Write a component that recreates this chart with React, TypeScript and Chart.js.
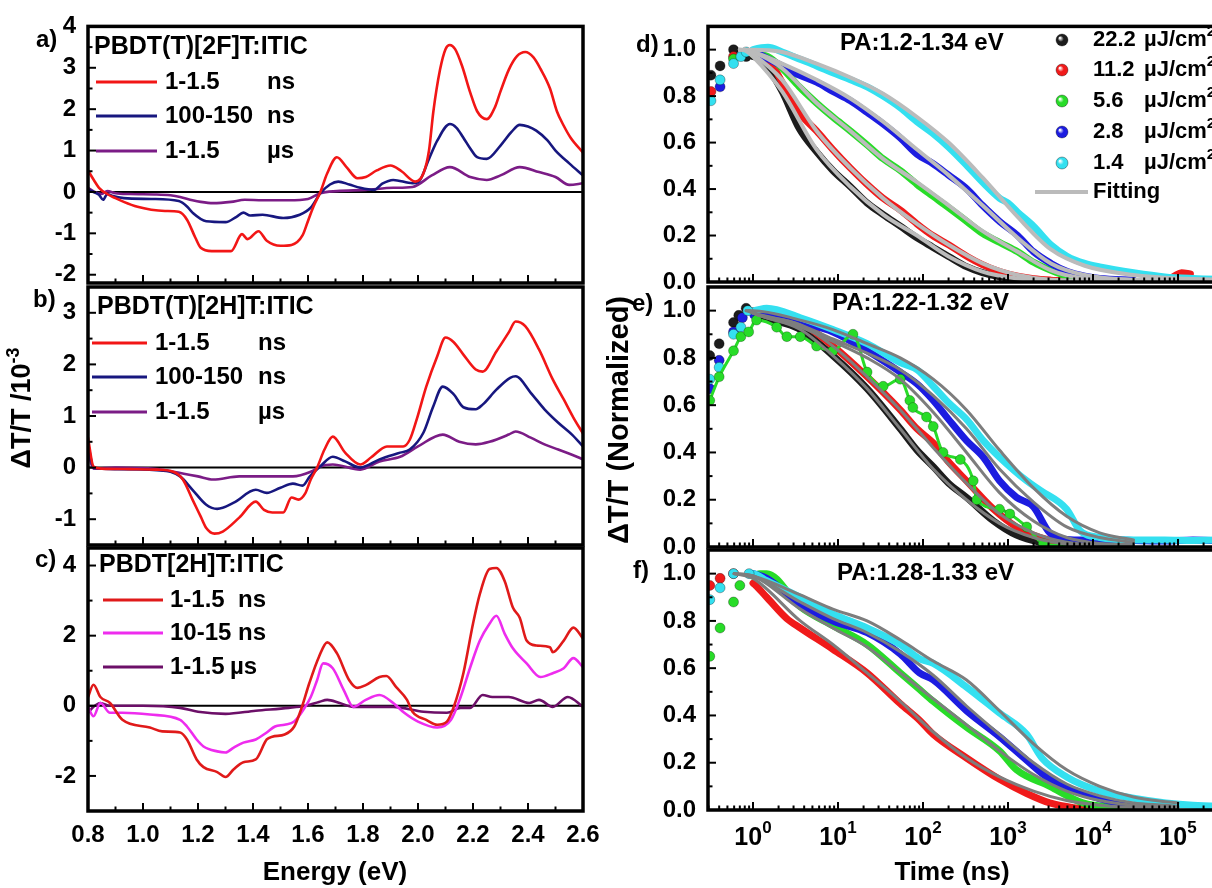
import React, { useEffect, useRef } from 'react';
import { Chart, registerables } from 'chart.js';

Chart.register(...registerables);

type Pt = [number, number | null];

const SANS = '"Liberation Sans", Arial, Helvetica, sans-serif';
const W = 1260;
const H = 888;

// ---------------- Left column: transient spectra (ΔT/T, 10^-3) ----------------
const energyTicks = [0.8, 1.0, 1.2, 1.4, 1.6, 1.8, 2.0, 2.2, 2.4, 2.6];
const energyMinor = [0.9, 1.1, 1.3, 1.5, 1.7, 1.9, 2.1, 2.3, 2.5];
const yTicksA = [-2, -1, 0, 1, 2, 3, 4];
const yMinorA = [-1.5, -0.5, 0.5, 1.5, 2.5, 3.5];
const yTicksB = [-1, 0, 1, 2, 3];
const yMinorB = [-0.5, 0.5, 1.5, 2.5];
const yTicksC = [-2, 0, 2, 4];
const yMinorC = [-1, 1, 3];

// a) PBDT(T)[2F]T:ITIC
const aRed: Pt[] = [[0.80,0.52],[0.82,0.30],[0.84,0.10],[0.87,-0.05],[0.90,-0.15],[0.93,-0.24],[0.98,-0.36],[1.03,-0.43],[1.08,-0.46],[1.13,-0.48],[1.16,-0.67],[1.19,-1.10],[1.21,-1.35],[1.25,-1.43],[1.32,-1.43],[1.36,-1.02],[1.38,-1.14],[1.42,-0.95],[1.45,-1.18],[1.50,-1.30],[1.54,-1.28],[1.58,-1.05],[1.60,-0.70],[1.62,-0.35],[1.645,0.00],[1.67,0.45],[1.705,0.84],[1.74,0.60],[1.78,0.33],[1.81,0.36],[1.85,0.52],[1.90,0.64],[1.94,0.50],[1.99,0.25],[2.02,0.45],[2.04,1.00],[2.056,1.95],[2.08,2.95],[2.10,3.45],[2.116,3.55],[2.135,3.45],[2.16,3.05],[2.19,2.40],[2.215,1.95],[2.25,1.76],[2.28,2.05],[2.30,2.43],[2.33,2.95],[2.36,3.28],[2.39,3.38],[2.42,3.25],[2.445,2.98],[2.48,2.50],[2.505,1.95],[2.53,1.60],[2.555,1.31],[2.60,0.95]];
const aNavy: Pt[] = [[0.80,0.05],[0.82,0.00],[0.84,-0.07],[0.855,-0.19],[0.87,-0.05],[0.89,-0.10],[0.93,-0.15],[1.03,-0.17],[1.13,-0.22],[1.16,-0.35],[1.18,-0.50],[1.23,-0.71],[1.30,-0.73],[1.34,-0.60],[1.365,-0.50],[1.39,-0.57],[1.435,-0.55],[1.51,-0.63],[1.57,-0.55],[1.61,-0.38],[1.645,-0.03],[1.68,0.18],[1.71,0.25],[1.75,0.18],[1.79,0.10],[1.84,0.05],[1.87,0.20],[1.91,0.29],[1.98,0.21],[2.00,0.23],[2.04,0.80],[2.07,1.24],[2.116,1.64],[2.14,1.55],[2.165,1.31],[2.19,1.05],[2.215,0.84],[2.25,0.80],[2.30,1.12],[2.34,1.45],[2.37,1.62],[2.40,1.58],[2.43,1.48],[2.47,1.25],[2.50,1.00],[2.55,0.69],[2.60,0.40]];
const aPurple: Pt[] = [[0.80,0.10],[0.83,-0.02],[0.85,-0.05],[0.87,0.02],[0.90,-0.03],[0.95,-0.05],[1.05,-0.06],[1.10,-0.08],[1.135,-0.12],[1.18,-0.20],[1.21,-0.24],[1.255,-0.27],[1.32,-0.24],[1.37,-0.19],[1.435,-0.20],[1.53,-0.20],[1.60,-0.17],[1.645,-0.03],[1.705,0.02],[1.81,0.05],[1.91,0.10],[1.98,0.12],[2.05,0.40],[2.116,0.60],[2.19,0.36],[2.25,0.29],[2.30,0.40],[2.37,0.60],[2.44,0.48],[2.50,0.36],[2.55,0.17],[2.60,0.21]];

// b) PBDT(T)[2H]T:ITIC
const bRed: Pt[] = [[0.80,0.58],[0.82,0.02],[0.85,-0.02],[0.95,-0.03],[1.05,-0.04],[1.11,-0.08],[1.145,-0.23],[1.18,-0.62],[1.21,-0.95],[1.23,-1.17],[1.26,-1.28],[1.29,-1.24],[1.35,-0.97],[1.41,-0.66],[1.44,-0.82],[1.47,-0.87],[1.51,-0.87],[1.54,-0.58],[1.565,-0.62],[1.59,-0.50],[1.61,-0.23],[1.633,0.00],[1.66,0.35],[1.69,0.60],[1.735,0.29],[1.79,0.06],[1.83,0.20],[1.887,0.41],[1.946,0.41],[1.97,0.54],[1.995,0.93],[2.03,1.57],[2.07,2.16],[2.10,2.52],[2.13,2.43],[2.165,2.19],[2.21,1.90],[2.235,1.86],[2.285,2.25],[2.33,2.62],[2.355,2.83],[2.39,2.74],[2.44,2.29],[2.49,1.71],[2.53,1.32],[2.565,0.97],[2.60,0.66]];
const bNavy: Pt[] = [[0.80,0.48],[0.82,0.00],[0.90,-0.03],[1.05,-0.05],[1.10,-0.08],[1.135,-0.17],[1.18,-0.43],[1.23,-0.72],[1.27,-0.80],[1.33,-0.68],[1.41,-0.43],[1.45,-0.49],[1.50,-0.39],[1.545,-0.31],[1.58,-0.35],[1.607,-0.17],[1.644,0.02],[1.69,0.21],[1.735,0.12],[1.79,0.00],[1.86,0.16],[1.935,0.29],[1.97,0.35],[2.02,0.68],[2.055,1.18],[2.09,1.57],[2.13,1.42],[2.165,1.17],[2.21,1.13],[2.235,1.22],[2.285,1.51],[2.335,1.74],[2.355,1.77],[2.41,1.45],[2.46,1.13],[2.51,0.87],[2.56,0.64],[2.60,0.41]];
const bPurple: Pt[] = [[0.80,0.30],[0.82,-0.02],[0.90,0.00],[1.05,-0.03],[1.11,-0.08],[1.20,-0.17],[1.255,-0.23],[1.35,-0.17],[1.45,-0.17],[1.545,-0.17],[1.61,-0.08],[1.644,0.02],[1.69,0.06],[1.79,-0.04],[1.86,0.12],[1.935,0.21],[2.00,0.41],[2.09,0.64],[2.15,0.50],[2.21,0.45],[2.26,0.50],[2.33,0.64],[2.355,0.70],[2.41,0.58],[2.46,0.45],[2.51,0.35],[2.56,0.25],[2.60,0.16]];

// c) PBDT[2H]T:ITIC
const cRed: Pt[] = [[0.80,0.25],[0.82,0.60],[0.845,0.25],[0.88,0.08],[0.925,-0.40],[1.025,-0.62],[1.07,-0.73],[1.135,-0.76],[1.16,-0.96],[1.195,-1.53],[1.22,-1.75],[1.27,-1.89],[1.30,-2.03],[1.33,-1.81],[1.365,-1.61],[1.41,-1.53],[1.45,-0.96],[1.47,-0.88],[1.515,-0.82],[1.55,-0.59],[1.575,-0.10],[1.605,0.65],[1.64,1.40],[1.67,1.81],[1.705,1.50],[1.75,0.73],[1.78,0.51],[1.81,0.59],[1.86,0.82],[1.885,0.85],[1.92,0.54],[1.96,0.17],[1.98,-0.17],[2.03,-0.40],[2.07,-0.54],[2.105,-0.45],[2.13,-0.03],[2.165,0.93],[2.20,2.34],[2.225,3.19],[2.26,3.90],[2.285,3.93],[2.315,3.56],[2.345,2.80],[2.37,2.51],[2.395,1.86],[2.43,1.72],[2.48,1.67],[2.49,1.53],[2.53,1.86],[2.565,2.23],[2.60,1.92]];
const cMagenta: Pt[] = [[0.80,-0.03],[0.82,-0.30],[0.845,0.08],[0.88,-0.20],[0.925,-0.20],[1.025,-0.25],[1.135,-0.40],[1.16,-0.59],[1.195,-0.96],[1.22,-1.16],[1.27,-1.30],[1.30,-1.33],[1.33,-1.19],[1.365,-1.05],[1.41,-0.96],[1.45,-0.76],[1.48,-0.59],[1.515,-0.54],[1.55,-0.45],[1.59,-0.03],[1.61,0.25],[1.633,0.73],[1.655,1.21],[1.69,1.07],[1.73,0.45],[1.765,-0.03],[1.81,0.17],[1.86,0.31],[1.91,0.08],[1.95,-0.20],[2.00,-0.45],[2.07,-0.62],[2.12,-0.40],[2.155,0.25],[2.19,1.10],[2.225,1.86],[2.26,2.34],[2.285,2.57],[2.315,2.06],[2.345,1.64],[2.395,1.21],[2.445,0.82],[2.49,0.93],[2.53,1.07],[2.565,1.36],[2.60,1.10]];
const cPurple: Pt[] = [[0.80,-0.20],[0.82,-0.03],[0.845,0.08],[0.88,0.00],[1.00,0.00],[1.135,-0.06],[1.20,-0.17],[1.30,-0.23],[1.41,-0.14],[1.53,-0.06],[1.59,0.00],[1.64,0.11],[1.67,0.17],[1.715,0.08],[1.765,-0.03],[1.91,-0.03],[2.02,-0.17],[2.105,-0.20],[2.155,-0.06],[2.19,-0.06],[2.235,0.31],[2.27,0.25],[2.33,0.25],[2.405,0.08],[2.44,0.17],[2.49,-0.03],[2.545,0.25],[2.60,-0.03]];

const legendA = [{ num: '1-1.5', unit: 'ns' }, { num: '100-150', unit: 'ns' }, { num: '1-1.5', unit: 'µs' }];
const legendB = [{ num: '1-1.5', unit: 'ns' }, { num: '100-150', unit: 'ns' }, { num: '1-1.5', unit: 'µs' }];
const legendC = [{ num: '1-1.5', unit: 'ns' }, { num: '10-15', unit: 'ns' }, { num: '1-1.5', unit: 'µs' }];

// ---------------- Right column: normalized kinetics ----------------
const normTicks = [0, 0.2, 0.4, 0.6, 0.8, 1.0];
const normMinor = [0.1, 0.3, 0.5, 0.7, 0.9];
const timeTicks = [1, 10, 100, 1000, 10000, 100000];
const timeExp = ['0', '1', '2', '3', '4', '5'];
const fluenceLabels = ['22.2', '11.2', '5.6', '2.8', '1.4'];
const fluenceUnit = 'µJ/cm';

// d) PA:1.2-1.34 eV
const dBlack: Pt[] = [[0.32,0.89],[0.41,0.93],[0.59,1.0],[0.83,0.97],[1,0.97],[1.5,0.92],[2.2,0.82],[3.5,0.66],[5.6,0.56],[8.7,0.48],[14,0.41],[22,0.34],[34,0.29],[54,0.24],[85,0.19],[130,0.15],[200,0.11],[330,0.065],[500,0.04],[800,0.022],[1300,0.012],[2000,0.007],[3200,0.004],[5000,0.003]];
const dRed: Pt[] = [[0.32,0.82],[0.59,0.97],[1,0.98],[1.5,0.96],[2.2,0.86],[3.5,0.73],[5.6,0.65],[8.7,0.57],[14,0.49],[22,0.42],[34,0.36],[54,0.31],[85,0.25],[130,0.2],[200,0.16],[330,0.11],[500,0.075],[800,0.045],[1300,0.025],[2000,0.014],[3200,0.008],[5000,0.005],[8000,0.003],[20000,null],[90000,0.025],[110000,0.04],[140000,0.035]];
const dGreen: Pt[] = [[0.59,0.96],[1,0.98],[1.5,0.97],[2.2,0.92],[3.5,0.84],[5.6,0.77],[8.7,0.71],[14,0.65],[22,0.59],[34,0.53],[54,0.48],[85,0.42],[130,0.37],[200,0.32],[330,0.26],[500,0.21],[800,0.17],[1300,0.13],[2000,0.085],[3200,0.05],[5000,0.025],[8000,0.012],[12000,0.006]];
const dBlue: Pt[] = [[0.41,0.84],[1,0.99],[1.5,0.96],[2.2,0.93],[3.5,0.89],[5.6,0.86],[8.7,0.82],[14,0.78],[22,0.73],[34,0.68],[54,0.62],[85,0.55],[130,0.51],[200,0.46],[330,0.4],[500,0.33],[800,0.26],[1300,0.2],[2000,0.13],[3200,0.08],[5000,0.045],[8000,0.025],[12000,0.015],[30000,0.008]];
const dCyan: Pt[] = [[0.32,0.78],[0.41,0.87],[0.59,0.94],[0.72,0.97],[0.83,0.99],[1,1.0],[1.5,1.01],[2.2,0.99],[3.5,0.96],[5.6,0.93],[8.7,0.9],[14,0.87],[22,0.84],[34,0.8],[54,0.75],[85,0.69],[130,0.64],[200,0.58],[330,0.5],[500,0.43],[800,0.36],[1000,0.34],[1300,0.3],[2000,0.24],[3200,0.16],[5000,0.11],[8000,0.08],[12000,0.065],[30000,0.04],[70000,0.022],[150000,0.015],[430000,0.01]];
const dFitBlack: Pt[] = [[0.8,1.0],[1,0.97],[2.2,0.82],[5.6,0.57],[14,0.41],[34,0.29],[85,0.2],[200,0.11],[500,0.045],[1300,0.015],[3200,0.005],[30000,0.002],[430000,0.002]];
const dFitRed: Pt[] = [[0.8,1.0],[1,0.98],[2.2,0.87],[5.6,0.65],[14,0.49],[34,0.36],[85,0.25],[200,0.16],[500,0.08],[1300,0.03],[3200,0.01],[30000,0.004],[430000,0.003]];
const dFitGreen: Pt[] = [[0.8,1.0],[1,0.99],[2.2,0.92],[5.6,0.77],[14,0.65],[34,0.53],[85,0.43],[200,0.33],[500,0.22],[1300,0.13],[3200,0.05],[8000,0.015],[30000,0.006],[430000,0.004]];
const dFitBlue: Pt[] = [[0.7,1.0],[1,0.99],[2.2,0.94],[5.6,0.87],[14,0.79],[34,0.69],[85,0.57],[200,0.46],[500,0.33],[1300,0.19],[3200,0.08],[8000,0.03],[30000,0.01],[430000,0.005]];
const dFitCyan: Pt[] = [[0.7,1.0],[1,1.0],[2.2,0.99],[5.6,0.94],[14,0.88],[34,0.81],[85,0.71],[200,0.6],[500,0.45],[1300,0.28],[3200,0.14],[8000,0.07],[30000,0.03],[100000,0.015],[430000,0.01]];

// e) PA:1.22-1.32 eV
const eBlack: Pt[] = [[0.31,0.81],[0.4,0.86],[0.59,0.95],[0.68,0.98],[0.83,1.01],[1,1.0],[1.45,0.97],[2.2,0.95],[3.6,0.92],[8.7,0.81],[22,0.67],[54,0.5],[85,0.41],[132,0.34],[200,0.27],[325,0.21],[676,0.11],[1259,0.05],[2400,0.02],[5000,0.008]];
const eRed: Pt[] = [[1,1.0],[1.45,0.98],[2.2,0.97],[3.6,0.95],[8.7,0.85],[22,0.72],[54,0.58],[85,0.5],[132,0.44],[200,0.36],[325,0.28],[676,0.16],[1259,0.085],[2400,0.04],[4900,0.015],[10000,0.005]];
const eGreen: Pt[] = [[0.31,0.62],[0.4,0.72],[0.59,0.83],[0.72,0.89],[0.89,0.91],[1.1,0.96],[1.9,0.93],[2.5,0.89],[3.6,0.89],[5.6,0.85],[8.7,0.83],[15,0.9],[22,0.74],[34,0.68],[54,0.71],[70,0.62],[76,0.59],[110,0.55],[132,0.51],[172,0.4],[275,0.37],[390,0.28],[430,0.2],[794,0.16],[1050,0.14],[1660,0.085],[2600,0.015],[5000,0.005]];
const eBlue: Pt[] = [[0.31,0.67],[0.4,0.79],[0.59,0.91],[0.75,0.97],[1,0.98],[1.45,0.99],[3.6,0.95],[8.7,0.91],[22,0.83],[54,0.74],[85,0.69],[132,0.62],[200,0.54],[325,0.45],[513,0.38],[794,0.28],[1259,0.21],[1995,0.17],[3100,0.06],[6000,0.03],[12000,0.03],[30000,0.028],[70000,0.025],[150000,0.03],[430000,0.025]];
const eCyan: Pt[] = [[0.31,0.71],[0.4,0.76],[0.59,0.9],[0.72,0.93],[0.87,1.0],[1,1.0],[1.45,1.01],[3.6,0.97],[8.7,0.92],[22,0.86],[54,0.78],[85,0.75],[132,0.68],[200,0.61],[325,0.54],[513,0.45],[794,0.38],[1660,0.28],[2400,0.24],[4900,0.16],[7000,0.07],[12000,0.04],[30000,0.03],[70000,0.03],[150000,0.028],[430000,0.03]];
const eFitCyan: Pt[] = [[0.83,1.0],[1,1.0],[3.6,0.96],[8.7,0.92],[22,0.86],[54,0.8],[132,0.71],[325,0.58],[794,0.41],[1995,0.25],[4900,0.13],[12000,0.06],[30000,0.03]];
const eFitBlue: Pt[] = [[0.83,1.0],[1,0.99],[3.6,0.94],[8.7,0.88],[22,0.82],[54,0.75],[132,0.64],[325,0.5],[794,0.33],[1995,0.19],[4900,0.085],[12000,0.04],[30000,0.02]];
const eFitGreen: Pt[] = [[0.9,1.0],[1,0.99],[3.6,0.93],[8.7,0.87],[22,0.8],[54,0.71],[132,0.57],[325,0.4],[794,0.23],[1995,0.11],[4900,0.04],[12000,0.015],[30000,0.01]];
const eFitRed: Pt[] = [[0.9,1.0],[1,0.99],[3.6,0.94],[8.7,0.85],[22,0.72],[54,0.58],[132,0.42],[325,0.27],[794,0.14],[1995,0.06],[4900,0.02],[12000,0.008],[30000,0.005]];
const eFitBlack: Pt[] = [[0.9,1.0],[1,0.99],[3.6,0.92],[8.7,0.81],[22,0.67],[54,0.5],[132,0.33],[325,0.2],[794,0.1],[1995,0.04],[4900,0.012],[12000,0.005],[30000,0.003]];

// f) PA:1.28-1.33 eV
const fRed: Pt[] = [[0.31,0.95],[0.41,0.98],[0.59,1.0],[1,0.96],[1.45,0.9],[2.5,0.81],[3.6,0.77],[8.7,0.68],[22,0.58],[54,0.45],[91,0.38],[132,0.32],[325,0.22],[794,0.13],[1660,0.07],[3100,0.03],[5900,0.01],[10000,0.004]];
const fGreen: Pt[] = [[0.31,0.65],[0.41,0.77],[0.59,0.88],[0.7,0.95],[1,0.99],[1.2,1.0],[1.45,1.0],[3.6,0.86],[8.7,0.78],[22,0.7],[54,0.58],[91,0.51],[132,0.46],[325,0.35],[794,0.25],[1260,0.17],[3100,0.1],[7600,0.03],[19000,0.01],[30000,0.005]];
const fBlue: Pt[] = [[1,1.0],[1.45,0.98],[3.6,0.87],[8.7,0.8],[22,0.75],[54,0.66],[91,0.58],[132,0.55],[325,0.42],[794,0.31],[1660,0.21],[3100,0.13],[7600,0.07],[19000,0.03],[47000,0.01]];
const fCyan: Pt[] = [[0.31,0.89],[0.41,0.94],[0.59,1.0],[0.9,1.0],[1,1.0],[1.45,0.97],[3.6,0.9],[8.7,0.83],[22,0.77],[54,0.7],[91,0.64],[132,0.62],[325,0.52],[794,0.41],[1660,0.32],[2500,0.22],[4900,0.14],[12000,0.08],[30000,0.05],[72000,0.03],[150000,0.02],[430000,0.015]];
const fFitCyan: Pt[] = [[0.6,1.0],[1,0.99],[3.6,0.91],[8.7,0.85],[22,0.8],[54,0.72],[132,0.63],[325,0.55],[794,0.42],[2000,0.28],[4900,0.17],[12000,0.1],[30000,0.055],[72000,0.035],[100000,0.03]];
const fFitBlue: Pt[] = [[0.6,1.0],[1,0.99],[3.6,0.88],[8.7,0.81],[22,0.75],[54,0.67],[132,0.57],[325,0.44],[794,0.32],[2000,0.2],[4900,0.11],[12000,0.06],[30000,0.03],[72000,0.02],[100000,0.015]];
const fFitGreen: Pt[] = [[0.6,1.0],[1,0.99],[3.6,0.85],[8.7,0.77],[22,0.69],[54,0.58],[132,0.47],[325,0.36],[794,0.25],[2000,0.15],[4900,0.08],[12000,0.04],[30000,0.02],[100000,0.01]];
const fFitRed: Pt[] = [[0.6,1.0],[1,0.98],[3.6,0.8],[8.7,0.7],[22,0.58],[54,0.46],[132,0.33],[325,0.22],[794,0.14],[2000,0.08],[4900,0.04],[12000,0.02],[30000,0.01],[100000,0.005]];

// ---------------- styles ----------------
const C_RED = '#f21616';
const C_NAVY = '#17177f';
const C_PURPLE = '#7b1c86';
const C_RED2 = '#e01a1a';
const C_MAGENTA = '#ee2cee';
const C_PURPLE2 = '#6c0f68';
const K_BLACK = '#1c1c1c';
const K_RED = '#f01a1a';
const K_GREEN = '#28dc28';
const K_BLUE = '#1c1ce0';
const K_CYAN = '#34e0f0';
const FIT_LIGHT = '#bbbbbb';
const FIT_DARK = '#7d7d7d';

const X_MIN_T = Math.pow(10, (708 - 753) / 85);
const X_MAX_T = Math.pow(10, (1232 - 753) / 85);

function logMinor(min: number, max: number): number[] {
  const out: number[] = [];
  for (let d = 0.1; d < max; d *= 10) {
    for (let m = 2; m <= 9; m++) {
      const v = m * d;
      if (v > min && v < max) out.push(v);
    }
  }
  return out;
}
const timeMinor = logMinor(X_MIN_T, X_MAX_T);

type Kind = 'line' | 'data' | 'dots' | 'fit';
interface Series { label: string; pts: Pt[]; color: string; kind: Kind; order: number; width?: number }

interface PanelCfg {
  id: string;
  L: number; R: number; T: number; B: number; padL: number;
  xLog: boolean; xMin: number; xMax: number; xTicks: number[]; xMinor: number[];
  yMin: number; yMax: number; yTicks: number[]; yMinor: number[]; yFmt: (v: number) => string;
  showX: boolean; zeroLine: boolean;
  series: Series[];
  decorate: (ctx: CanvasRenderingContext2D, chart: any) => void;
}

function fnt(size: number) { return `bold ${size}px ${SANS}`; }
function text(ctx: CanvasRenderingContext2D, s: string, x: number, y: number, size: number, align: CanvasTextAlign = 'left') {
  ctx.font = fnt(size); ctx.fillStyle = '#000'; ctx.textAlign = align; ctx.textBaseline = 'middle'; ctx.fillText(s, x, y);
}
interface Part { t: string; size: number; dy: number }
function rich(ctx: CanvasRenderingContext2D, parts: Part[], x: number, y: number, align: 'left' | 'center') {
  let total = 0;
  const ws = parts.map(p => { ctx.font = fnt(p.size); const w = ctx.measureText(p.t).width; total += w; return w; });
  let cx = align === 'center' ? x - total / 2 : x;
  ctx.fillStyle = '#000'; ctx.textAlign = 'left'; ctx.textBaseline = 'middle';
  parts.forEach((p, i) => { ctx.font = fnt(p.size); ctx.fillText(p.t, cx, y + p.dy); cx += ws[i]; });
}
function rotated(ctx: CanvasRenderingContext2D, parts: Part[], x: number, y: number) {
  ctx.save(); ctx.translate(x, y); ctx.rotate(-Math.PI / 2); rich(ctx, parts, 0, 0, 'center'); ctx.restore();
}
function legendRows(ctx: CanvasRenderingContext2D, rows: { num: string; unit: string }[], colors: string[], x1: number, x2: number, numX: number, unitX: number[], ys: number[], size: number) {
  rows.forEach((r, i) => {
    ctx.strokeStyle = colors[i]; ctx.lineWidth = 3; ctx.beginPath(); ctx.moveTo(x1, ys[i]); ctx.lineTo(x2, ys[i]); ctx.stroke();
    text(ctx, r.num, numX, ys[i], size);
    text(ctx, r.unit, unitX[i], ys[i], size);
  });
}
function sphere(ctx: CanvasRenderingContext2D, x: number, y: number, r: number, color: string) {
  const g = ctx.createRadialGradient(x - r * 0.35, y - r * 0.35, 0.5, x, y, r);
  g.addColorStop(0, '#ffffff'); g.addColorStop(0.45, color); g.addColorStop(1, color);
  ctx.fillStyle = g; ctx.beginPath(); ctx.arc(x, y, r, 0, Math.PI * 2); ctx.fill();
  ctx.strokeStyle = 'rgba(0,0,0,0.35)'; ctx.lineWidth = 1; ctx.stroke();
}

function toData(pts: Pt[]) { return pts.map(([x, y]) => ({ x, y })); }

function makeDataset(s: Series) {
  const base: any = {
    label: s.label, data: toData(s.pts), borderColor: s.color, backgroundColor: s.color,
    cubicInterpolationMode: 'monotone', spanGaps: false, order: s.order, fill: false,
    borderJoinStyle: 'round', borderCapStyle: 'round',
  };
  if (s.kind === 'line') return { ...base, borderWidth: s.width ?? 2.6, pointRadius: 0 };
  if (s.kind === 'fit') return { ...base, borderWidth: s.width ?? 3, pointRadius: 0 };
  if (s.kind === 'dots') return { ...base, borderWidth: 3, pointRadius: 5, pointBackgroundColor: s.color, pointBorderColor: 'rgba(0,0,0,0.25)', pointBorderWidth: 1 };
  return {
    ...base, borderWidth: 7,
    pointRadius: (c: any) => (c.raw && c.raw.x < 0.95 ? 5 : 0),
    pointBackgroundColor: s.color, pointBorderColor: 'rgba(0,0,0,0.3)', pointBorderWidth: 1,
    segment: { borderColor: (c: any) => (c.p0.parsed.x < 0.95 ? 'rgba(0,0,0,0)' : undefined) },
  };
}

function buildConfig(cfg: PanelCfg): any {
  const xAxisH = cfg.showX ? 40 : 0;
  const tickFont = { family: SANS, size: 24, weight: 'bold' as const };
  const decor = {
    id: 'decor' + cfg.id,
    beforeDatasetsDraw(chart: any) {
      if (!cfg.zeroLine) return;
      const { ctx, chartArea, scales } = chart;
      const y0 = scales.y.getPixelForValue(0);
      ctx.save(); ctx.strokeStyle = '#000'; ctx.lineWidth = 2;
      ctx.beginPath(); ctx.moveTo(chartArea.left, y0); ctx.lineTo(chartArea.right, y0); ctx.stroke(); ctx.restore();
    },
    afterDraw(chart: any) {
      const { ctx, chartArea, scales } = chart;
      const { left, right, top, bottom } = chartArea;
      ctx.save();
      ctx.strokeStyle = '#000'; ctx.lineWidth = 2;
      const vt = (v: number, len: number) => { const p = scales.x.getPixelForValue(v); ctx.beginPath(); ctx.moveTo(p, bottom); ctx.lineTo(p, bottom - len); ctx.stroke(); };
      const ht = (v: number, len: number) => { const p = scales.y.getPixelForValue(v); ctx.beginPath(); ctx.moveTo(left, p); ctx.lineTo(left + len, p); ctx.stroke(); };
      cfg.xTicks.forEach(v => vt(v, 8));
      cfg.xMinor.forEach(v => vt(v, 4.5));
      cfg.yTicks.forEach(v => ht(v, 8));
      cfg.yMinor.forEach(v => ht(v, 4.5));
      ctx.lineWidth = 3.5; ctx.strokeRect(left, top, right - left, bottom - top);
      cfg.decorate(ctx, chart);
      ctx.restore();
    },
  };
  return {
    type: 'line',
    data: { datasets: cfg.series.map(makeDataset) },
    options: {
      responsive: false, maintainAspectRatio: false, animation: false, devicePixelRatio: 1, events: [],
      layout: { padding: { left: cfg.padL, top: cfg.T, right: W - cfg.R, bottom: H - cfg.B - xAxisH } },
      plugins: { legend: { display: false }, tooltip: { enabled: false }, title: { display: false } },
      scales: {
        x: {
          type: cfg.xLog ? 'logarithmic' : 'linear', min: cfg.xMin, max: cfg.xMax, position: 'bottom',
          grid: { display: false, drawTicks: false }, border: { display: false },
          ticks: { display: cfg.showX && !cfg.xLog, font: tickFont, color: '#000', padding: 10, maxRotation: 0, autoSkip: false, callback: (v: any) => Number(v).toFixed(1) },
          afterBuildTicks: (s: any) => { s.ticks = cfg.xTicks.map(value => ({ value })); },
          afterFit: (s: any) => { s.height = xAxisH; },
        },
        y: {
          type: 'linear', min: cfg.yMin, max: cfg.yMax, position: 'left',
          grid: { display: false, drawTicks: false }, border: { display: false },
          ticks: { font: tickFont, color: '#000', padding: 12, autoSkip: false, callback: (v: any) => cfg.yFmt(Number(v)) },
          afterBuildTicks: (s: any) => { s.ticks = cfg.yTicks.map(value => ({ value })); },
          afterFit: (s: any) => { s.width = cfg.L - cfg.padL; },
        },
      },
    },
    plugins: [decor],
  };
}

const intFmt = (v: number) => String(Math.round(v));
const oneFmt = (v: number) => v.toFixed(1);

const leftBase = { padL: 0, L: 88, R: 583, xLog: false, xMin: 0.8, xMax: 2.6, xTicks: energyTicks, xMinor: energyMinor, yFmt: intFmt, zeroLine: true };
const rightBase = { padL: 600, L: 708, R: 1232, xLog: true, xMin: X_MIN_T, xMax: X_MAX_T, xTicks: timeTicks, xMinor: timeMinor, yMin: 0, yMax: 1.1, yTicks: normTicks, yMinor: normMinor, yFmt: oneFmt, zeroLine: false };

const panels: PanelCfg[] = [
  {
    ...leftBase, id: 'a', T: 25, B: 283, yMin: -2.2, yMax: 4, yTicks: yTicksA, yMinor: yMinorA, showX: false,
    series: [
      { label: '1-1.5 µs', pts: aPurple, color: C_PURPLE, kind: 'line', order: 3 },
      { label: '100-150 ns', pts: aNavy, color: C_NAVY, kind: 'line', order: 2 },
      { label: '1-1.5 ns', pts: aRed, color: C_RED, kind: 'line', order: 1 },
    ],
    decorate: (ctx) => {
      text(ctx, 'a)', 36, 40, 24);
      text(ctx, 'PBDT(T)[2F]T:ITIC', 94, 47, 25);
      legendRows(ctx, legendA, [C_RED, C_NAVY, C_PURPLE], 96, 157, 165, [267, 267, 267], [82, 116, 151], 24);
    },
  },
  {
    ...leftBase, id: 'b', T: 287, B: 545, yMin: -1.5, yMax: 3.5, yTicks: yTicksB, yMinor: yMinorB, showX: false,
    series: [
      { label: '1-1.5 µs', pts: bPurple, color: C_PURPLE, kind: 'line', order: 3 },
      { label: '100-150 ns', pts: bNavy, color: C_NAVY, kind: 'line', order: 2 },
      { label: '1-1.5 ns', pts: bRed, color: C_RED, kind: 'line', order: 1 },
    ],
    decorate: (ctx) => {
      text(ctx, 'b)', 33, 300, 24);
      text(ctx, 'PBDT(T)[2H]T:ITIC', 97, 307, 25);
      legendRows(ctx, legendB, [C_RED, C_NAVY, C_PURPLE], 92, 147, 155, [258, 258, 258], [343, 377, 412], 24);
      rotated(ctx, [{ t: 'ΔT/T /10', size: 27, dy: 0 }, { t: '-3', size: 18, dy: -9 }], 23, 408);
    },
  },
  {
    ...leftBase, id: 'c', T: 548, B: 811, yMin: -3, yMax: 4.5, yTicks: yTicksC, yMinor: yMinorC, showX: true,
    series: [
      { label: '1-1.5 µs', pts: cPurple, color: C_PURPLE2, kind: 'line', order: 3 },
      { label: '10-15 ns', pts: cMagenta, color: C_MAGENTA, kind: 'line', order: 2 },
      { label: '1-1.5 ns', pts: cRed, color: C_RED2, kind: 'line', order: 1 },
    ],
    decorate: (ctx) => {
      text(ctx, 'c)', 35, 560, 24);
      text(ctx, 'PBDT[2H]T:ITIC', 99, 565, 25);
      legendRows(ctx, legendC, [C_RED2, C_MAGENTA, C_PURPLE2], 103, 163, 170, [238, 238, 230], [600, 633, 667], 24);
      text(ctx, 'Energy (eV)', 335, 873, 26, 'center');
    },
  },
  {
    ...rightBase, id: 'd', T: 23, B: 282, showX: false,
    series: [
      { label: 'Fit 22.2', pts: dFitBlack, color: FIT_LIGHT, kind: 'fit', order: 0, width: 4 },
      { label: 'Fit 11.2', pts: dFitRed, color: FIT_LIGHT, kind: 'fit', order: 0, width: 4 },
      { label: 'Fit 5.6', pts: dFitGreen, color: FIT_LIGHT, kind: 'fit', order: 0, width: 4 },
      { label: 'Fit 2.8', pts: dFitBlue, color: FIT_LIGHT, kind: 'fit', order: 0, width: 4 },
      { label: 'Fit 1.4', pts: dFitCyan, color: FIT_LIGHT, kind: 'fit', order: 0, width: 4 },
      { label: '1.4', pts: dCyan, color: K_CYAN, kind: 'data', order: 1 },
      { label: '2.8', pts: dBlue, color: K_BLUE, kind: 'data', order: 2 },
      { label: '5.6', pts: dGreen, color: K_GREEN, kind: 'data', order: 3 },
      { label: '11.2', pts: dRed, color: K_RED, kind: 'data', order: 4 },
      { label: '22.2', pts: dBlack, color: K_BLACK, kind: 'data', order: 5 },
    ],
    decorate: (ctx) => {
      text(ctx, 'd)', 636, 45, 24);
      text(ctx, 'PA:1.2-1.34 eV', 840, 43, 24);
      const colors = [K_BLACK, K_RED, K_GREEN, K_BLUE, K_CYAN];
      const ys = [40, 70, 101, 132, 163];
      fluenceLabels.forEach((lab, i) => {
        sphere(ctx, 1062, ys[i], 6, colors[i]);
        text(ctx, lab, 1093, ys[i], 22);
        rich(ctx, [{ t: fluenceUnit, size: 22, dy: 0 }, { t: '2', size: 15, dy: -8 }], 1144, ys[i], 'left');
      });
      ctx.strokeStyle = FIT_LIGHT; ctx.lineWidth = 4; ctx.beginPath(); ctx.moveTo(1035, 192); ctx.lineTo(1088, 192); ctx.stroke();
      text(ctx, 'Fitting', 1093, 192, 22);
    },
  },
  {
    ...rightBase, id: 'e', T: 287, B: 547, showX: false,
    series: [
      { label: 'Fit 22.2', pts: eFitBlack, color: FIT_DARK, kind: 'fit', order: 0 },
      { label: 'Fit 11.2', pts: eFitRed, color: FIT_DARK, kind: 'fit', order: 0 },
      { label: 'Fit 5.6', pts: eFitGreen, color: FIT_DARK, kind: 'fit', order: 0 },
      { label: 'Fit 2.8', pts: eFitBlue, color: FIT_DARK, kind: 'fit', order: 0 },
      { label: 'Fit 1.4', pts: eFitCyan, color: FIT_DARK, kind: 'fit', order: 0 },
      { label: '5.6', pts: eGreen, color: K_GREEN, kind: 'dots', order: 1 },
      { label: '1.4', pts: eCyan, color: K_CYAN, kind: 'data', order: 2 },
      { label: '2.8', pts: eBlue, color: K_BLUE, kind: 'data', order: 3 },
      { label: '11.2', pts: eRed, color: K_RED, kind: 'data', order: 4 },
      { label: '22.2', pts: eBlack, color: K_BLACK, kind: 'data', order: 5 },
    ],
    decorate: (ctx) => {
      text(ctx, 'e)', 632, 304, 24);
      text(ctx, 'PA:1.22-1.32 eV', 832, 303, 24);
      rotated(ctx, [{ t: 'ΔT/T (Normalized)', size: 29, dy: 0 }], 620, 420);
    },
  },
  {
    ...rightBase, id: 'f', T: 550, B: 810, showX: true,
    series: [
      { label: 'Fit 11.2', pts: fFitRed, color: FIT_DARK, kind: 'fit', order: 0 },
      { label: 'Fit 5.6', pts: fFitGreen, color: FIT_DARK, kind: 'fit', order: 0 },
      { label: 'Fit 2.8', pts: fFitBlue, color: FIT_DARK, kind: 'fit', order: 0 },
      { label: 'Fit 1.4', pts: fFitCyan, color: FIT_DARK, kind: 'fit', order: 0 },
      { label: '1.4', pts: fCyan, color: K_CYAN, kind: 'data', order: 1 },
      { label: '2.8', pts: fBlue, color: K_BLUE, kind: 'data', order: 2 },
      { label: '5.6', pts: fGreen, color: K_GREEN, kind: 'data', order: 3 },
      { label: '11.2', pts: fRed, color: K_RED, kind: 'data', order: 4 },
    ],
    decorate: (ctx, chart) => {
      text(ctx, 'f)', 633, 571, 24);
      text(ctx, 'PA:1.28-1.33 eV', 837, 573, 24);
      const xs = chart.scales.x;
      timeTicks.forEach((v, i) => {
        rich(ctx, [{ t: '10', size: 25, dy: 0 }, { t: timeExp[i], size: 17, dy: -10 }], xs.getPixelForValue(v), 838, 'center');
      });
      text(ctx, 'Time (ns)', 952, 873, 26, 'center');
    },
  },
];

function Panel({ cfg }: { cfg: PanelCfg }) {
  const ref = useRef<HTMLCanvasElement | null>(null);
  useEffect(() => {
    if (!ref.current) return;
    const chart = new Chart(ref.current, buildConfig(cfg));
    return () => chart.destroy();
  }, [cfg]);
  return (
    <canvas
      ref={ref}
      width={W}
      height={H}
      style={{ position: 'absolute', left: 0, top: 0, width: W, height: H, display: 'block' }}
    />
  );
}

export default function App() {
  return (
    <div style={{ position: 'absolute', left: 0, top: 0, width: 1212, height: 888, overflow: 'hidden', background: '#ffffff' }}>
      {panels.map(p => <Panel key={p.id} cfg={p} />)}
    </div>
  );
}
